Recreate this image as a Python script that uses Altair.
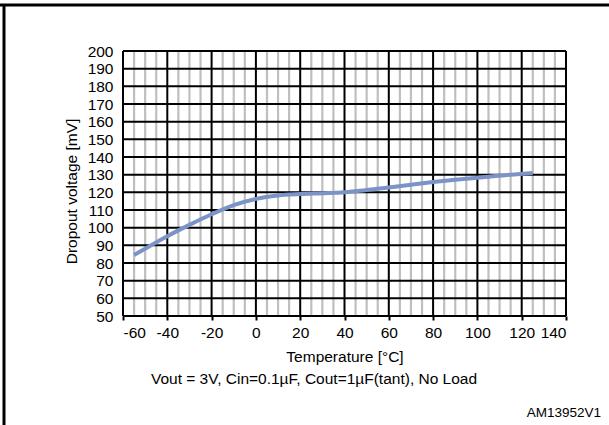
import altair as alt
import pandas as pd

temps = [-55, -40, -30, -20, -10, 0, 10, 20, 30, 40, 50, 60, 70, 80, 90, 100, 110, 125]
dropout = [84.5, 95.2, 101.6, 107.6, 112.8, 116.3, 118.2, 119, 119.5, 120.1, 121.3, 122.7, 124.3, 125.8, 127.1, 128.3, 129.4, 131]

x_major = list(range(-60, 141, 20))
x_minor = [v for v in range(-60, 141, 5) if v % 20 != 0]
y_major = list(range(50, 201, 10))

FONT = "Liberation Sans"
FS = 15.5
W, H = 443, 265

df = pd.DataFrame({"t": temps, "v": dropout})
xs = alt.Scale(domain=[-60, 140], nice=False)
ys = alt.Scale(domain=[50, 200], nice=False)

x_axis = alt.Axis(
    values=x_major, title="Temperature [°C]", grid=False, domain=False,
    labelExpr="'' + datum.value",
    tickColor="#000", tickSize=4, tickWidth=2, labelFont=FONT, labelFontSize=FS,
    labelColor="#000", labelPadding=5, titleFont=FONT, titleFontSize=FS,
    titleFontWeight="normal", titleColor="#000", titleBaseline="middle", titleY=40)
y_axis = alt.Axis(
    values=y_major, title="Dropout voltage [mV]", grid=False, domain=False,
    tickSize=0, labelFont=FONT, labelFontSize=FS, labelColor="#000", labelPadding=10,
    titleFont=FONT, titleFontSize=FS, titleFontWeight="normal", titleColor="#000",
    titleX=-52, titleY=140, titleBaseline="middle")

minor = alt.Chart(pd.DataFrame({"x": x_minor})).mark_rule(color="#bfbfbf", strokeWidth=2.2).encode(
    x=alt.X("x:Q", scale=xs, axis=x_axis))
majorx = alt.Chart(pd.DataFrame({"x": x_major})).mark_rule(color="#000000", strokeWidth=2).encode(
    x=alt.X("x:Q", scale=xs, axis=x_axis))
majory = alt.Chart(pd.DataFrame({"y": y_major})).mark_rule(color="#000000", strokeWidth=2).encode(
    y=alt.Y("y:Q", scale=ys, axis=y_axis))

line = alt.Chart(df).mark_line(color="#7b93c6", strokeWidth=4, interpolate="monotone").encode(
    x=alt.X("t:Q", scale=xs, axis=x_axis),
    y=alt.Y("v:Q", scale=ys, axis=y_axis),
)

sub = alt.Chart(pd.DataFrame({"s": ["Vout = 3V, Cin=0.1µF, Cout=1µF(tant), No  Load"]})).mark_text(
    font=FONT, fontSize=FS, color="#000", align="center", baseline="middle").encode(
    text="s:N", x=alt.value(191), y=alt.value(328))
code = alt.Chart(pd.DataFrame({"s": ["AM13952V1"]})).mark_text(
    font=FONT, fontSize=13.5, color="#000", align="right", baseline="middle").encode(
    text="s:N", x=alt.value(478), y=alt.value(362))

frame_top = alt.Chart(pd.DataFrame({"a": [0]})).mark_rule(color="#000", strokeWidth=3).encode(
    x=alt.value(-123), x2=alt.value(609 - 123), y=alt.value(-46))
frame_left = alt.Chart(pd.DataFrame({"a": [0]})).mark_rule(color="#000", strokeWidth=3).encode(
    x=alt.value(-119), y=alt.value(-46), y2=alt.value(425 - 51))

chart = alt.layer(minor, majorx, majory, line, sub, code, frame_top, frame_left).properties(
    width=W, height=H,
    autosize=alt.AutoSizeParams(type="none"),
    padding={"left": 123, "top": 51, "right": 43, "bottom": 109},
).configure_view(stroke="#000", strokeWidth=2).configure(background="white")

chart.save("out.html", embed_options={"renderer": "svg", "actions": False})
